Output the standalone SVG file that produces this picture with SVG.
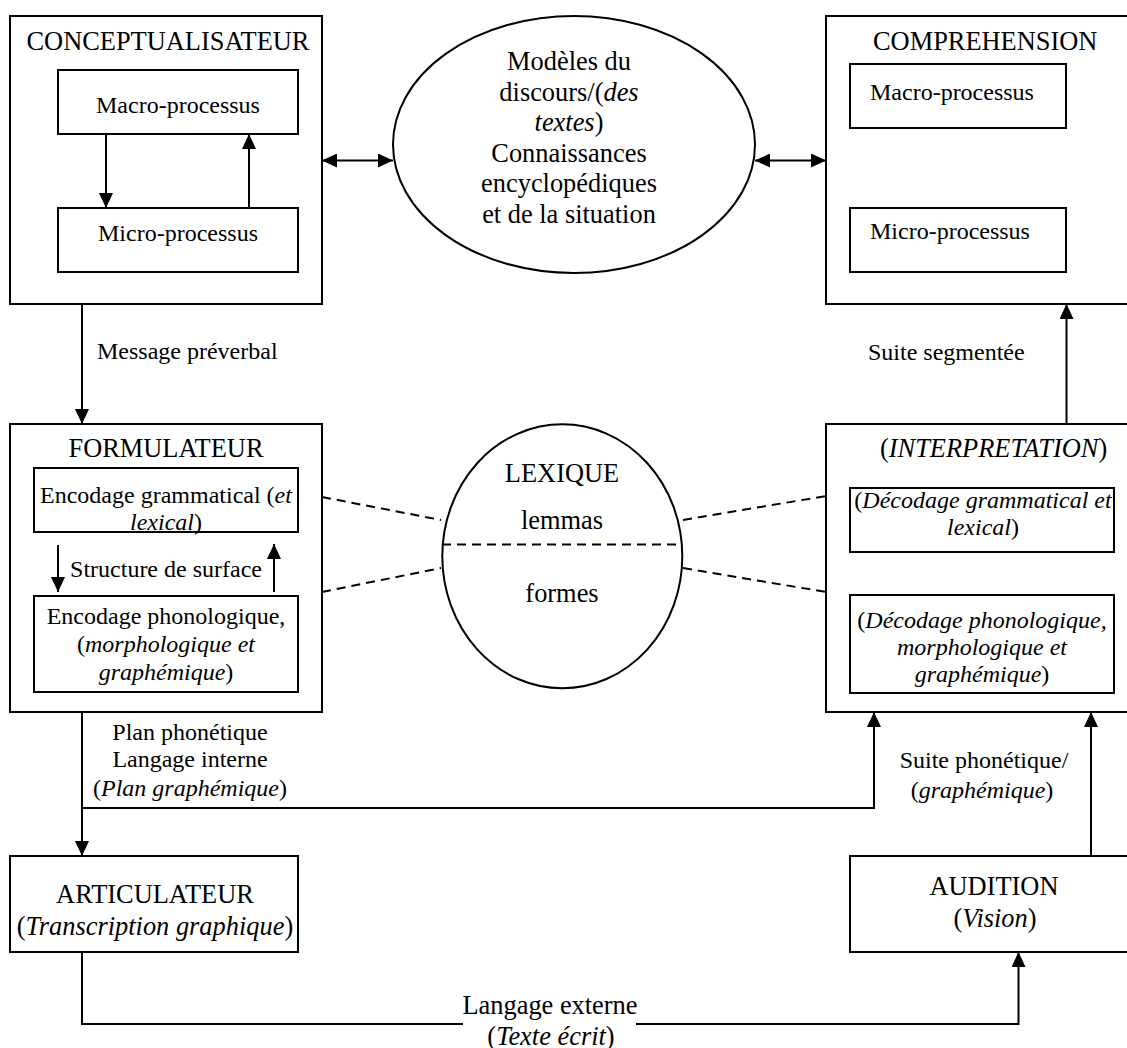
<svg xmlns="http://www.w3.org/2000/svg" width="1127" height="1048" viewBox="0 0 1127 1048">
<style>
.box{fill:#fff;stroke:#000;stroke-width:2}
.ln{fill:none;stroke:#000;stroke-width:2}
.dash{fill:none;stroke:#000;stroke-width:2;stroke-dasharray:9 6}
text{font-family:"Liberation Serif","Times New Roman",serif;fill:#000}
.t{font-size:26.4px}
.b{font-size:24px}
.m{text-anchor:middle}
.i{font-style:italic}
</style>
<defs>
<marker id="ah" markerUnits="userSpaceOnUse" markerWidth="15" markerHeight="14" refX="15" refY="7" orient="auto-start-reverse">
<path d="M0,0 L15,7 L0,14 z" fill="#000"/>
</marker>
</defs>
<rect width="1127" height="1048" fill="#fff"/>

<g id="conceptualisateur">
<rect class="box" x="10" y="16" width="312" height="288"/>
<text class="t m" x="168" y="50">CONCEPTUALISATEUR</text>
<rect class="box" x="58" y="70" width="240" height="64"/>
<text class="b m" x="178" y="113">Macro-processus</text>
<rect class="box" x="58" y="208" width="240" height="64"/>
<text class="b m" x="178" y="241">Micro-processus</text>
</g>

<g id="modeles">
<ellipse class="box" cx="574" cy="144.5" rx="181" ry="128.5"/>
<text class="t m" x="569" y="70">Modèles du</text>
<text class="t m" x="569" y="100.5">discours/(<tspan class="i">des</tspan></text>
<text class="t m" x="569" y="131"><tspan class="i">textes</tspan>)</text>
<text class="t m" x="569" y="161.7">Connaissances</text>
<text class="t m" x="569" y="192">encyclopédiques</text>
<text class="t m" x="569" y="223">et de la situation</text>
</g>

<g id="comprehension">
<rect class="box" x="826" y="16" width="314" height="288"/>
<text class="t" x="873" y="50">COMPREHENSION</text>
<rect class="box" x="850" y="64" width="216" height="64"/>
<text class="b" x="870" y="100">Macro-processus</text>
<rect class="box" x="850" y="208" width="216" height="64"/>
<text class="b" x="870" y="239">Micro-processus</text>
</g>

<g id="formulateur">
<rect class="box" x="10" y="424" width="312" height="288"/>
<text class="t m" x="166" y="457">FORMULATEUR</text>
<rect class="box" x="34" y="468" width="264" height="64"/>
<text class="b m" x="166" y="503">Encodage grammatical (<tspan class="i">et</tspan></text>
<text class="b m" x="166" y="530"><tspan class="i">lexical</tspan>)</text>
<text class="b m" x="166" y="577">Structure de surface</text>
<rect class="box" x="34" y="596" width="264" height="96"/>
<text class="b m" x="166" y="623.5">Encodage phonologique,</text>
<text class="b m" x="166" y="652">(<tspan class="i">morphologique et</tspan></text>
<text class="b m" x="166" y="680"><tspan class="i">graphémique</tspan>)</text>
</g>

<g id="lexique">
<ellipse class="box" cx="562.3" cy="556.3" rx="120" ry="132"/>
<line class="dash" x1="442" y1="544.5" x2="682" y2="544.5"/>
<text class="t m" x="562" y="482">LEXIQUE</text>
<text class="t m" x="562" y="529">lemmas</text>
<text class="t m" x="562" y="602">formes</text>
</g>

<g id="interpretation">
<rect class="box" x="826" y="424" width="314" height="288"/>
<text class="t" x="880" y="457">(<tspan class="i">INTERPRETATION</tspan>)</text>
<rect class="box" x="850" y="488" width="264" height="64"/>
<text class="b m" x="983" y="508">(<tspan class="i">Décodage grammatical et</tspan></text>
<text class="b m" x="983" y="535"><tspan class="i">lexical</tspan>)</text>
<rect class="box" x="850" y="595" width="264" height="98"/>
<text class="b m" x="982" y="628">(<tspan class="i">Décodage phonologique,</tspan></text>
<text class="b m" x="982" y="655"><tspan class="i">morphologique et</tspan></text>
<text class="b m" x="982" y="682"><tspan class="i">graphémique</tspan>)</text>
</g>

<g id="articulateur">
<rect class="box" x="10" y="856" width="288" height="96"/>
<text class="t m" x="155" y="903">ARTICULATEUR</text>
<text class="t m" x="155" y="935">(<tspan class="i">Transcription graphique</tspan>)</text>
</g>

<g id="audition">
<rect class="box" x="850" y="856" width="290" height="96"/>
<text class="t m" x="994" y="895">AUDITION</text>
<text class="t m" x="995" y="927">(<tspan class="i">Vision</tspan>)</text>
</g>

<g id="connectors">
<line class="ln" x1="106" y1="134" x2="106" y2="208" marker-end="url(#ah)"/>
<line class="ln" x1="249" y1="208" x2="249" y2="134" marker-end="url(#ah)"/>
<line class="ln" x1="322" y1="160.5" x2="393" y2="160.5" marker-start="url(#ah)" marker-end="url(#ah)"/>
<line class="ln" x1="755" y1="160.5" x2="826" y2="160.5" marker-start="url(#ah)" marker-end="url(#ah)"/>
<line class="ln" x1="82" y1="304" x2="82" y2="424" marker-end="url(#ah)"/>
<line class="ln" x1="1066.5" y1="424" x2="1066.5" y2="304" marker-end="url(#ah)"/>
<line class="ln" x1="58" y1="545" x2="58" y2="592" marker-end="url(#ah)"/>
<line class="ln" x1="274" y1="592" x2="274" y2="544" marker-end="url(#ah)"/>
<line class="dash" x1="322" y1="497" x2="441" y2="520"/>
<line class="dash" x1="322" y1="592" x2="441" y2="568"/>
<line class="dash" x1="683" y1="520" x2="826" y2="496"/>
<line class="dash" x1="683" y1="568" x2="826" y2="592"/>
<line class="ln" x1="82" y1="712" x2="82" y2="856" marker-end="url(#ah)"/>
<polyline class="ln" points="82,808 874,808 874,712" marker-end="url(#ah)"/>
<line class="ln" x1="1091" y1="856" x2="1091" y2="712" marker-end="url(#ah)"/>
<polyline class="ln" points="82,952 82,1024 463,1024"/>
<polyline class="ln" points="636,1024 1018.5,1024 1018.5,952" marker-end="url(#ah)"/>
<text class="b" x="97" y="359">Message préverbal</text>
<text class="b" x="868" y="360">Suite segmentée</text>
<text class="b m" x="190" y="740">Plan phonétique</text>
<text class="b m" x="190" y="767">Langage interne</text>
<text class="b m" x="190" y="796">(<tspan class="i">Plan graphémique</tspan>)</text>
<text class="b m" x="984" y="768">Suite phonétique/</text>
<text class="b m" x="982" y="798">(<tspan class="i">graphémique</tspan>)</text>
<text class="t m" x="550" y="1014">Langage externe</text>
<text class="t m" x="551" y="1045">(<tspan class="i">Texte écrit</tspan>)</text>
</g>
</svg>
